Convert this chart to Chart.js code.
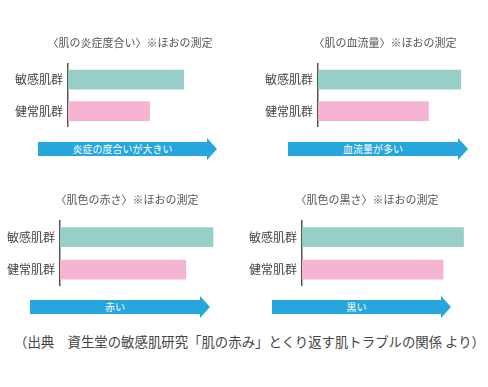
<!DOCTYPE html>
<html>
<head>
<meta charset="utf-8">
<script src="https://cdn.jsdelivr.net/npm/chart.js@4"></script>
<style>
  html, body { margin: 0; padding: 0; background: #fff; }
  #page { position: relative; width: 488px; height: 387px; overflow: hidden;
          font-family: "Noto Sans CJK JP", "Noto Sans", sans-serif; }
  .panel { position: absolute; }
  .arrow { position: absolute; height: 22px; background: #27a6de;
           clip-path: polygon(0 4px, calc(100% - 10px) 4px, calc(100% - 10px) 0, 100% 50%, calc(100% - 10px) 100%, calc(100% - 10px) 18px, 0 18px);
           color: #fff; font-size: 10px; line-height: 22px; }
  .arrow span { position: absolute; left: 0; right: 10px; text-align: center; }
  #source { position: absolute; left: 0; width: 499px; top: 331px; text-align: center;
            font-size: 13.4px; color: #444; white-space: nowrap; }
</style>
</head>
<body>
<div id="page">
  <canvas id="c1" class="panel"></canvas>
  <canvas id="c2" class="panel"></canvas>
  <canvas id="c3" class="panel"></canvas>
  <canvas id="c4" class="panel"></canvas>
  <div class="arrow" style="left:38px; top:138px; width:179px;"><span>炎症の度合いが大きい</span></div>
  <div class="arrow" style="left:288px; top:138px; width:180px;"><span>血流量が多い</span></div>
  <div class="arrow" style="left:30px; top:296px; width:180px;"><span>赤い</span></div>
  <div class="arrow" style="left:272px; top:296px; width:179px;"><span>黒い</span></div>
  <div id="source">（出典　資生堂の敏感肌研究「肌の赤み」とくり返す肌トラブルの関係 より）</div>
</div>
<script>
const groups = ["敏感肌群", "健常肌群"];
const titles = [
  "〈肌の炎症度合い〉※ほおの測定",
  "〈肌の血流量〉※ほおの測定",
  "〈肌色の赤さ〉※ほおの測定",
  "〈肌色の黒さ〉※ほおの測定"
];
// relative values (no numbers shown in the source), sensitive vs normal skin
const inflammation = [68, 48];
const bloodFlow = [84, 65];
const redness = [90, 74];
const darkness = [95, 83];
const barColors = ["#98cec8", "#f5b5d2"];

const AXIS_W = 58;      // width kept for the category labels
const UNIT_PX = 170;    // pixels that 100 units take in every panel

function makePanel(id, values, title, box) {
  const el = document.getElementById(id);
  el.style.left = box.left + "px";
  el.style.top = box.top + "px";
  el.style.width = box.width + "px";
  el.style.height = box.height + "px";
  el.width = box.width;
  el.height = box.height;

  // the title is centred over the whole canvas, so the plot runs on past the bars
  const plotW = box.width - AXIS_W;
  const xMax = 100 * plotW / UNIT_PX;

  return new Chart(el, {
    type: "bar",
    data: {
      labels: groups,
      datasets: [{
        data: values,
        backgroundColor: barColors,
        barThickness: 19
      }]
    },
    options: {
      indexAxis: "y",
      responsive: false,
      animation: false,
      layout: { padding: 0 },
      plugins: {
        legend: { display: false },
        tooltip: { enabled: false },
        title: {
          display: true,
          text: title,
          color: "#555",
          font: { family: "'Noto Sans CJK JP'", size: 11, weight: "normal" },
          padding: { top: 6.4, bottom: 14.4 }
        }
      },
      scales: {
        x: { display: false, min: 0, max: xMax },
        y: {
          grid: { display: false, drawTicks: false },
          border: { display: true, color: "#555", width: 1.5 },
          ticks: {
            color: "#444",
            padding: 5,
            font: { family: "'Noto Sans CJK JP'", size: 12 }
          },
          afterFit: (scale) => { scale.width = AXIS_W; }
        }
      }
    }
  });
}

// the y axis reserves ~12px under the last label, so canvases are 12px taller
makePanel("c1", inflammation, titles[0], { left: 10, top: 30, width: 240, height: 109 });
makePanel("c2", bloodFlow, titles[1], { left: 260, top: 30, width: 250, height: 109 });
makePanel("c3", redness, titles[2], { left: 2, top: 187, width: 250, height: 111 });
makePanel("c4", darkness, titles[3], { left: 244, top: 187, width: 246, height: 111 });
</script>
</body>
</html>
